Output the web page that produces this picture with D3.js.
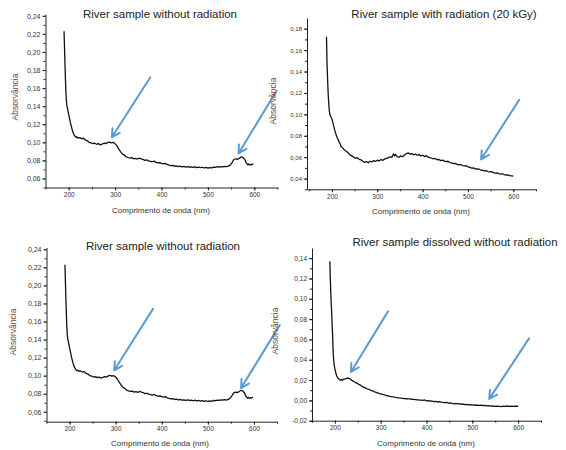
<html>
<head>
<script src="https://d3js.org/d3.v7.min.js"></script>
<style>
body { margin: 0; background: #fff; }
svg { display: block; font-family: "Liberation Sans", Arial, sans-serif; }
</style>
</head>
<body>
<div id="plot"></div>
<script>
// UV-Vis spectra: [wavelength (nm), absorbance]
var riverNoRad = [
 [190,0.223],[191,0.205],[192,0.186],[193,0.170],[194,0.155],[195,0.146],[196,0.141],[198,0.136],
 [200,0.131],[202,0.126],[204,0.121],[206,0.117],[208,0.113],[210,0.110],[212,0.108],[214,0.1065],
 [216,0.1055],[218,0.106],[220,0.1048],[224,0.1052],[228,0.1040],[232,0.1045],[236,0.1025],[240,0.1018],
 [244,0.1000],[248,0.0995],[252,0.0985],[256,0.0990],[260,0.0978],[264,0.0985],[268,0.0972],[272,0.0980],
 [276,0.0990],[280,0.0985],[284,0.0998],[288,0.1002],[292,0.0995],[296,0.1000],[300,0.0985],[304,0.0960],
 [308,0.0925],[312,0.0895],[316,0.0870],[320,0.0858],[324,0.0840],[328,0.0832],[332,0.0825],[336,0.0830],
 [340,0.0818],[344,0.0822],[348,0.0815],[352,0.0825],[356,0.0818],[360,0.0812],[364,0.0800],[368,0.0805],
 [372,0.0795],[376,0.0790],[380,0.0785],[384,0.0792],[388,0.0778],[392,0.0772],[396,0.0776],[400,0.0768],
 [404,0.0762],[408,0.0768],[412,0.0755],[416,0.0748],[420,0.0742],[424,0.0745],[428,0.0736],[432,0.0740],
 [436,0.0732],[440,0.0736],[444,0.0728],[448,0.0733],[452,0.0726],[456,0.0731],[460,0.0725],[464,0.0729],
 [468,0.0722],[472,0.0728],[476,0.0720],[480,0.0726],[484,0.0719],[488,0.0724],[492,0.0716],[496,0.0722],
 [500,0.0714],[504,0.0720],[508,0.0716],[512,0.0726],[516,0.0722],[520,0.0730],[524,0.0726],[528,0.0732],
 [532,0.0728],[536,0.0734],[540,0.0730],[544,0.0736],[548,0.0748],[552,0.0775],[556,0.0810],[560,0.0818],
 [564,0.0812],[568,0.0825],[572,0.0838],[576,0.0830],[580,0.0805],[582,0.0775],[584,0.0765],[586,0.0752],
 [588,0.0760],[590,0.0748],[592,0.0756],[594,0.0752],[596,0.0758],[598,0.0760]
];

var riverRad20 = [
 [188,0.1725],[189,0.150],[190,0.138],[191,0.126],[192,0.117],[193,0.110],[194,0.104],[195,0.101],
 [196,0.099],[198,0.0975],[200,0.0955],[202,0.0925],[204,0.089],[206,0.0855],[208,0.0825],[210,0.080],
 [212,0.0780],[214,0.0760],[216,0.0740],[218,0.0725],[220,0.0700],[224,0.0685],[228,0.0665],[232,0.0655],
 [236,0.0640],[240,0.0620],[244,0.0612],[248,0.0600],[252,0.0590],[256,0.0595],[260,0.0580],[264,0.0575],
 [268,0.0562],[272,0.0552],[276,0.0560],[280,0.0548],[284,0.0562],[288,0.0555],[292,0.0568],[296,0.0560],
 [300,0.0572],[304,0.0565],[308,0.0578],[312,0.0570],[316,0.0582],[320,0.0588],[324,0.0594],[328,0.0604],
 [332,0.0598],[336,0.0632],[338,0.0612],[340,0.0626],[344,0.0605],[348,0.0600],[352,0.0612],[356,0.0604],
 [360,0.0622],[364,0.0632],[368,0.0640],[372,0.0628],[376,0.0634],[380,0.0622],[384,0.0630],[388,0.0618],
 [392,0.0624],[396,0.0612],[400,0.0618],[404,0.0606],[408,0.0614],[412,0.0600],[416,0.0596],[420,0.0590],
 [424,0.0584],[428,0.0588],[432,0.0576],[436,0.0579],[440,0.0568],[444,0.0572],[448,0.0562],[452,0.0558],
 [456,0.0562],[460,0.0550],[464,0.0546],[468,0.0540],[472,0.0542],[476,0.0532],[480,0.0528],[484,0.0532],
 [488,0.0522],[492,0.0518],[496,0.0520],[500,0.0510],[504,0.0506],[508,0.0498],[512,0.0500],[516,0.0492],
 [520,0.0488],[524,0.0490],[528,0.0480],[532,0.0478],[536,0.0472],[540,0.0474],[544,0.0466],[548,0.0462],
 [552,0.0465],[556,0.0456],[560,0.0452],[564,0.0454],[568,0.0446],[572,0.0442],[576,0.0445],[580,0.0436],
 [584,0.0432],[588,0.0435],[592,0.0428],[596,0.0426],[600,0.0422]
];

var riverDissolved = [
 [189,0.137],[190,0.120],[191,0.106],[192,0.095],[193,0.086],[194,0.074],[195,0.064],[196,0.050],
 [197,0.042],[198,0.036],[200,0.031],[202,0.027],[204,0.0240],[206,0.0225],[208,0.0212],[210,0.0205],
 [212,0.0200],[214,0.0205],[216,0.0198],[218,0.0206],[220,0.0210],[224,0.0215],[228,0.0222],[232,0.0215],
 [236,0.0200],[240,0.0190],[244,0.0178],[248,0.0170],[252,0.0158],[256,0.0150],[260,0.0135],[264,0.0128],
 [268,0.0118],[272,0.0112],[276,0.0105],[280,0.0095],[284,0.0090],[288,0.0082],[292,0.0076],[296,0.0070],
 [300,0.0065],[304,0.0058],[308,0.0054],[312,0.0048],[316,0.0045],[320,0.0040],[324,0.0036],[328,0.0034],
 [332,0.0030],[336,0.0027],[340,0.0024],[344,0.0022],[348,0.0020],[352,0.0018],[356,0.0016],[360,0.0014],
 [364,0.0015],[368,0.0011],[372,0.0009],[376,0.0008],[380,0.0006],[384,0.0004],[388,0.0003],[392,0.0000],
 [396,0.0004],[400,-0.0004],[404,-0.0002],[408,-0.0008],[412,-0.0006],[416,-0.0012],[420,-0.0010],[424,-0.0016],
 [428,-0.0012],[432,-0.0018],[436,-0.0020],[440,-0.0022],[444,-0.0020],[448,-0.0026],[452,-0.0024],[456,-0.0030],
 [460,-0.0034],[464,-0.0030],[468,-0.0034],[472,-0.0032],[476,-0.0038],[480,-0.0036],[484,-0.0042],[488,-0.0040],
 [492,-0.0044],[496,-0.0042],[500,-0.0046],[504,-0.0044],[508,-0.0048],[512,-0.0046],[516,-0.0050],[520,-0.0048],
 [524,-0.0052],[528,-0.0050],[532,-0.0054],[536,-0.0052],[540,-0.0056],[544,-0.0054],[548,-0.0058],[552,-0.0056],
 [556,-0.0060],[560,-0.0058],[564,-0.0062],[568,-0.0056],[572,-0.0060],[576,-0.0055],[580,-0.0058],[584,-0.0056],
 [588,-0.0059],[592,-0.0057],[596,-0.0058],[600,-0.0058]
];

// arrow annotations, [from wavelength, from absorbance, to wavelength, to absorbance]
var arrowsNoRad = [[376,0.172,293,0.1057],[648,0.157,566,0.0877]];
var arrowsRad20 = [[613,0.1136,529,0.058]];
var arrowsNoRadB = [[381,0.174,297,0.106],[656,0.156,572,0.0863]];
var arrowsDissolved = [[316,0.0876,235,0.028],[624,0.061,537,0.0015]];

var titles = ["River sample without radiation", "River sample with radiation (20 kGy)",
              "River sample without radiation", "River sample dissolved without radiation"];
var xTicks = [200, 300, 400, 500, 600];
var xLabel = "Comprimento de onda (nm)";
var yLabel = "Absorvância";

var width = 566, height = 450;
var svg = d3.select("#plot").append("svg").attr("width", width).attr("height", height);

var panels = [
  { data: riverNoRad, arrows: arrowsNoRad, title: titles[0],
    xDom: [150, 650], xRange: [45.5, 277.5], yDom: [0.05, 0.242], yRange: [187.5, 14],
    yTicks: d3.range(0.06, 0.2401, 0.02), yFont: 7, titleX: 160, titleY: 18,
    xLabX: 161, xLabY: 212.5, yLabX: 15, yLabY: 97 },
  { data: riverRad20, arrows: arrowsRad20, title: titles[1],
    xDom: [145, 650], xRange: [307, 536], yDom: [0.03, 0.19], yRange: [189.3, 18],
    yTicks: d3.range(0.04, 0.1801, 0.02), yFont: 6, titleX: 444, titleY: 18,
    xLabX: 421, xLabY: 214, yLabX: 273, yLabY: 101 },
  { data: riverNoRad, arrows: arrowsNoRadB, title: titles[2],
    xDom: [150, 650], xRange: [46.5, 277], yDom: [0.049, 0.242], yRange: [421.7, 247.5],
    yTicks: d3.range(0.06, 0.2401, 0.02), yFont: 7, titleX: 163, titleY: 250,
    xLabX: 160, xLabY: 446, yLabX: 13, yLabY: 332 },
  { data: riverDissolved, arrows: arrowsDissolved, title: titles[3],
    xDom: [150, 650], xRange: [312, 541], yDom: [-0.02, 0.15], yRange: [420.7, 248],
    yTicks: d3.range(-0.02, 0.1401, 0.02), yFont: 6.5, titleX: 455, titleY: 246,
    xLabX: 426, xLabY: 446, yLabX: 275, yLabY: 331 }
];

function fmt(v) {
  var s = d3.format(".2f")(Math.abs(v) < 1e-9 ? 0 : v).replace(".", ",");
  return s.replace("\u2212", "-");
}

function drawPanel(p) {
  var xScale = d3.scaleLinear().domain(p.xDom).range(p.xRange);
  var yScale = d3.scaleLinear().domain(p.yDom).range(p.yRange);
  var g = svg.append("g");

  // minor ticks
  g.append("g").attr("transform", "translate(0," + p.yRange[0] + ")")
   .call(d3.axisBottom(xScale).tickValues(d3.range(150, 651, 50)).tickSize(2).tickFormat(""))
   .call(function(a) { a.select(".domain").remove(); });
  g.append("g").attr("transform", "translate(" + p.xRange[0] + ",0)")
   .call(d3.axisLeft(yScale).tickValues(d3.range(Math.ceil(p.yDom[0] * 100) / 100, p.yDom[1], 0.01)).tickSize(2).tickFormat(""))
   .call(function(a) { a.select(".domain").remove(); });

  var xAxis = g.append("g").attr("transform", "translate(0," + p.yRange[0] + ")")
   .call(d3.axisBottom(xScale).tickValues(xTicks).tickSize(3).tickSizeOuter(0).tickPadding(2));
  xAxis.selectAll("text").style("font-size", "6.5px").attr("fill", "#333");

  var yAxis = g.append("g").attr("transform", "translate(" + p.xRange[0] + ",0)")
   .call(d3.axisLeft(yScale).tickValues(p.yTicks).tickSize(3).tickSizeOuter(0).tickPadding(2).tickFormat(fmt));
  yAxis.selectAll("text").style("font-size", p.yFont + "px").attr("fill", "#333");

  g.selectAll(".domain").attr("stroke", "#222").attr("stroke-width", 1);
  g.selectAll(".tick line").attr("stroke", "#222");

  var line = d3.line().x(function(d) { return xScale(d[0]); }).y(function(d) { return yScale(d[1]); });
  g.append("path").datum(p.data).attr("d", line)
   .attr("fill", "none").attr("stroke", "#111").attr("stroke-width", 1.3)
   .attr("stroke-linejoin", "round");

  // blue arrows
  p.arrows.forEach(function(a) {
    var x1 = xScale(a[0]), y1 = yScale(a[1]), x2 = xScale(a[2]), y2 = yScale(a[3]);
    var ang = Math.atan2(y1 - y2, x1 - x2), len = 9, spread = 0.5;
    var hx1 = x2 + len * Math.cos(ang - spread), hy1 = y2 + len * Math.sin(ang - spread);
    var hx2 = x2 + len * Math.cos(ang + spread), hy2 = y2 + len * Math.sin(ang + spread);
    g.append("path")
     .attr("d", "M" + x1 + "," + y1 + "L" + x2 + "," + y2 + "M" + hx1 + "," + hy1 + "L" + x2 + "," + y2 + "L" + hx2 + "," + hy2)
     .attr("fill", "none").attr("stroke", "#5b9bd5").attr("stroke-width", 2)
     .attr("stroke-linecap", "round").attr("stroke-linejoin", "round");
  });

  g.append("text").attr("x", p.titleX).attr("y", p.titleY).attr("text-anchor", "middle")
   .style("font-size", "11.5px").attr("fill", "#222").text(p.title);
  g.append("text").attr("x", p.xLabX).attr("y", p.xLabY).attr("text-anchor", "middle")
   .style("font-size", "8px").attr("fill", "#333").text(xLabel);
  g.append("text").attr("transform", "translate(" + p.yLabX + "," + p.yLabY + ") rotate(-90)")
   .attr("text-anchor", "middle").attr("dy", "0.35em")
   .style("font-size", "8.5px").attr("fill", "#6b4a30").text(yLabel);
}

panels.forEach(drawPanel);
</script>
</body>
</html>
